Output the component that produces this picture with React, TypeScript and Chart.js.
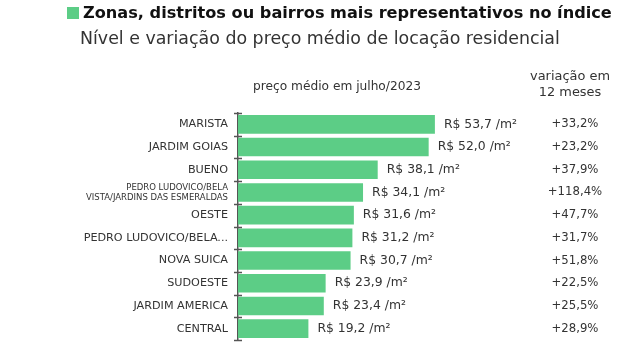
import React, { useEffect, useRef } from "react";
import { Chart, registerables } from "chart.js";

Chart.register(...registerables);

const categories: (string | string[])[] = [
  "MARISTA",
  "JARDIM GOIAS",
  "BUENO",
  ["PEDRO LUDOVICO/BELA", "VISTA/JARDINS DAS ESMERALDAS"],
  "OESTE",
  "PEDRO LUDOVICO/BELA...",
  "NOVA SUICA",
  "SUDOESTE",
  "JARDIM AMERICA",
  "CENTRAL",
];
const prices = [53.7, 52.0, 38.1, 34.1, 31.6, 31.2, 30.7, 23.9, 23.4, 19.2];
const variations = [33.2, 23.2, 37.9, 118.4, 47.7, 31.7, 51.8, 22.5, 25.5, 28.9];

const TITLE = "Zonas, distritos ou bairros mais representativos no índice";
const SUBTITLE = "Nível e variação do preço médio de locação residencial";
const HEADER_PRICE = "preço médio em julho/2023";
const HEADER_VAR = ["variação em", "12 meses"];

const GREEN = "#5ccd86";
const TEXT = "#333333";
const FONT = "'DejaVu Sans', sans-serif";

const fmt = (v: number, d = 1) => v.toFixed(d).replace(".", ",");

function fitFont(ctx: any, text: string, weight: string, target: number) {
  ctx.font = `${weight} 20px ${FONT}`;
  const w = ctx.measureText(text).width;
  const size = (20 * target) / w;
  ctx.font = `${weight} ${size.toFixed(2)}px ${FONT}`;
}

const overlay = {
  id: "overlay",
  afterDraw(chart: any) {
    const ctx = chart.ctx;
    const area = chart.chartArea;
    ctx.save();
    // title square
    ctx.fillStyle = GREEN;
    ctx.fillRect(67, 7, 12, 12);
    ctx.fillStyle = "#111";
    ctx.textBaseline = "middle";
    ctx.textAlign = "left";
    fitFont(ctx, TITLE, "bold", 529);
    ctx.fillText(TITLE, 83, 14);
    ctx.fillStyle = TEXT;
    fitFont(ctx, SUBTITLE, "normal", 480);
    ctx.fillText(SUBTITLE, 80, 39);
    // headers
    ctx.textAlign = "center";
    fitFont(ctx, HEADER_PRICE, "normal", 168);
    ctx.fillText(HEADER_PRICE, 337, 87);
    fitFont(ctx, HEADER_VAR[0], "normal", 80);
    ctx.fillText(HEADER_VAR[0], 570, 77);
    ctx.fillText(HEADER_VAR[1], 570, 93);
    // axis ticks on both sides
    const n = categories.length;
    const step = (area.bottom - area.top) / n;
    ctx.strokeStyle = "#555";
    ctx.lineWidth = 1.5;
    for (let i = 0; i <= n; i++) {
      const y = Math.round(area.top + i * step) + 0.5;
      ctx.beginPath();
      ctx.moveTo(area.left - 4, y);
      ctx.lineTo(area.left + 4, y);
      ctx.stroke();
    }
    // value labels
    const meta = chart.getDatasetMeta(0);
    ctx.fillStyle = TEXT;
    meta.data.forEach((bar: any, i: number) => {
      ctx.textAlign = "left";
      ctx.font = `12.4px ${FONT}`;
      ctx.fillText(`R$ ${fmt(prices[i])} /m²`, bar.x + 9, bar.y);
      ctx.textAlign = "center";
      ctx.font = `11.7px ${FONT}`;
      ctx.fillText(`+${fmt(variations[i])}%`, 575, bar.y);
    });
    ctx.restore();
  },
};

export default function App() {
  const ref = useRef<HTMLCanvasElement>(null);
  useEffect(() => {
    if (!ref.current) return;
    const chart = new Chart(ref.current, {
      type: "bar",
      data: {
        labels: categories,
        datasets: [
          {
            data: prices,
            backgroundColor: GREEN,
            borderWidth: 0,
            barPercentage: 0.82,
            categoryPercentage: 1,
          },
        ],
      },
      options: {
        indexAxis: "y",
        animation: false,
        responsive: false,
        layout: { padding: { top: 113, bottom: 19, right: 162, left: 0 } },
        plugins: { legend: { display: false }, tooltip: { enabled: false } },
        scales: {
          x: { display: false, min: 0, max: 60 },
          y: {
            afterFit: (s: any) => {
              s.width = 238;
            },
            grid: { display: false, drawTicks: false },
            border: { display: true, color: "#555", width: 1.5 },
            ticks: {
              autoSkip: false,
              padding: 10,
              color: TEXT,
              font: (c: any) =>
                c.index === 3
                  ? { family: FONT, size: 8.5, lineHeight: 1.15 }
                  : { family: FONT, size: 11.2 },
            },
          },
        },
      },
      plugins: [overlay],
    });
    return () => chart.destroy();
  }, []);
  return (
    <div style={{ position: "absolute", left: 0, top: 0, width: 620, height: 359, background: "#fff" }}>
      <canvas ref={ref} width={620} height={359} />
    </div>
  );
}
